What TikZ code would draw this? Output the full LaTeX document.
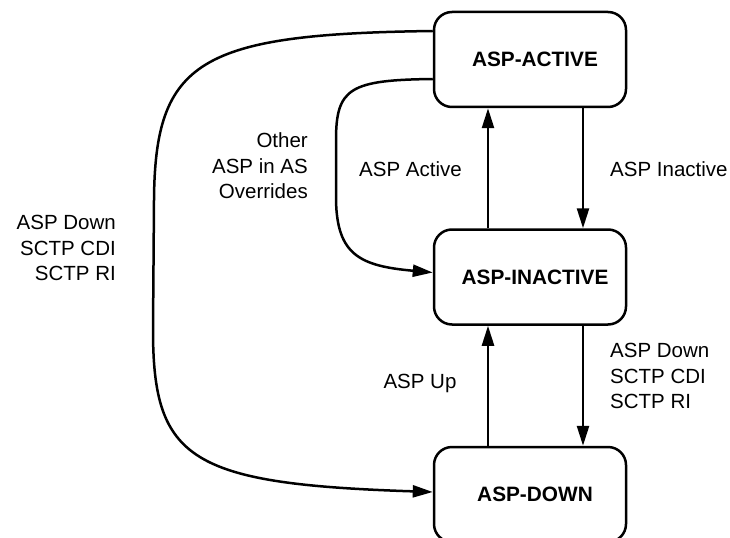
\documentclass[tikz,border=0pt]{standalone}
\usepackage{fontspec}
\setmainfont{Liberation Sans}
\usetikzlibrary{arrows.meta,positioning}

\begin{document}
\begin{tikzpicture}
[
	x=1bp,y=-1bp,
	state/.style={draw,line width=2.5bp,rounded corners=18bp,minimum width=192bp,minimum height=95bp,inner sep=0pt,font=\fontsize{20.8bp}{25bp}\selectfont\bfseries,execute at begin node={\hspace*{10bp}}},
	trans/.style={line width=2.5bp,-{Triangle[length=20bp,width=12bp]}},
	lbl/.style={inner sep=0pt,font=\fontsize{20.5bp}{25.5bp}\selectfont}
]

	\useasboundingbox (0,0) rectangle (730,538);

	% states
	\node[state] at (530,59.5) (active) {ASP-ACTIVE};
	\node[state,below=120bp of active] (inactive) {ASP-INACTIVE};
	\node[state,below=120bp of inactive] (down) {ASP-DOWN};

	% transitions between neighbours
	\draw[trans] ([xshift=-42bp]inactive.north) -- ([xshift=-42bp]active.south);
	\draw[trans] ([xshift=53bp]active.south) -- ([xshift=53bp]inactive.north);
	\draw[trans] ([xshift=-42bp]down.north) -- ([xshift=-42bp]inactive.south);
	\draw[trans] ([xshift=53bp]inactive.south) -- ([xshift=53bp]down.north);

	% other ASP overrides
	\draw[trans] ([yshift=-19.5bp]active.west) .. controls (350,80) and (336,88) .. (336,140)
		-- (336,200) .. controls (337,255) and (360,266) .. ([yshift=4.5bp]inactive.west);

	% active straight to down
	\draw[trans] ([yshift=28.5bp]active.west) .. controls (200,34) and (155,60) .. (154,200)
		-- (153,330) .. controls (153,460) and (190,484) .. ([yshift=2.5bp]down.west);

	% labels
	\node[lbl,align=right,anchor=east] at (308,166) (overrides) {Other\\ASP in AS\\Overrides};
	\node[lbl,align=right,anchor=east] at (116,248) (downleft) {ASP Down\\SCTP CDI\\SCTP RI};
	\node[lbl] at (410.5,169) (aspactive) {ASP Active};
	\node[lbl,anchor=west] at (610,169) (aspinactive) {ASP Inactive};
	\node[lbl] at (420,383) (aspup) {ASP Up};
	\node[lbl,align=left,anchor=west] at (610,376) (downright) {ASP Down\\SCTP CDI\\SCTP RI};

\end{tikzpicture}
\end{document}
